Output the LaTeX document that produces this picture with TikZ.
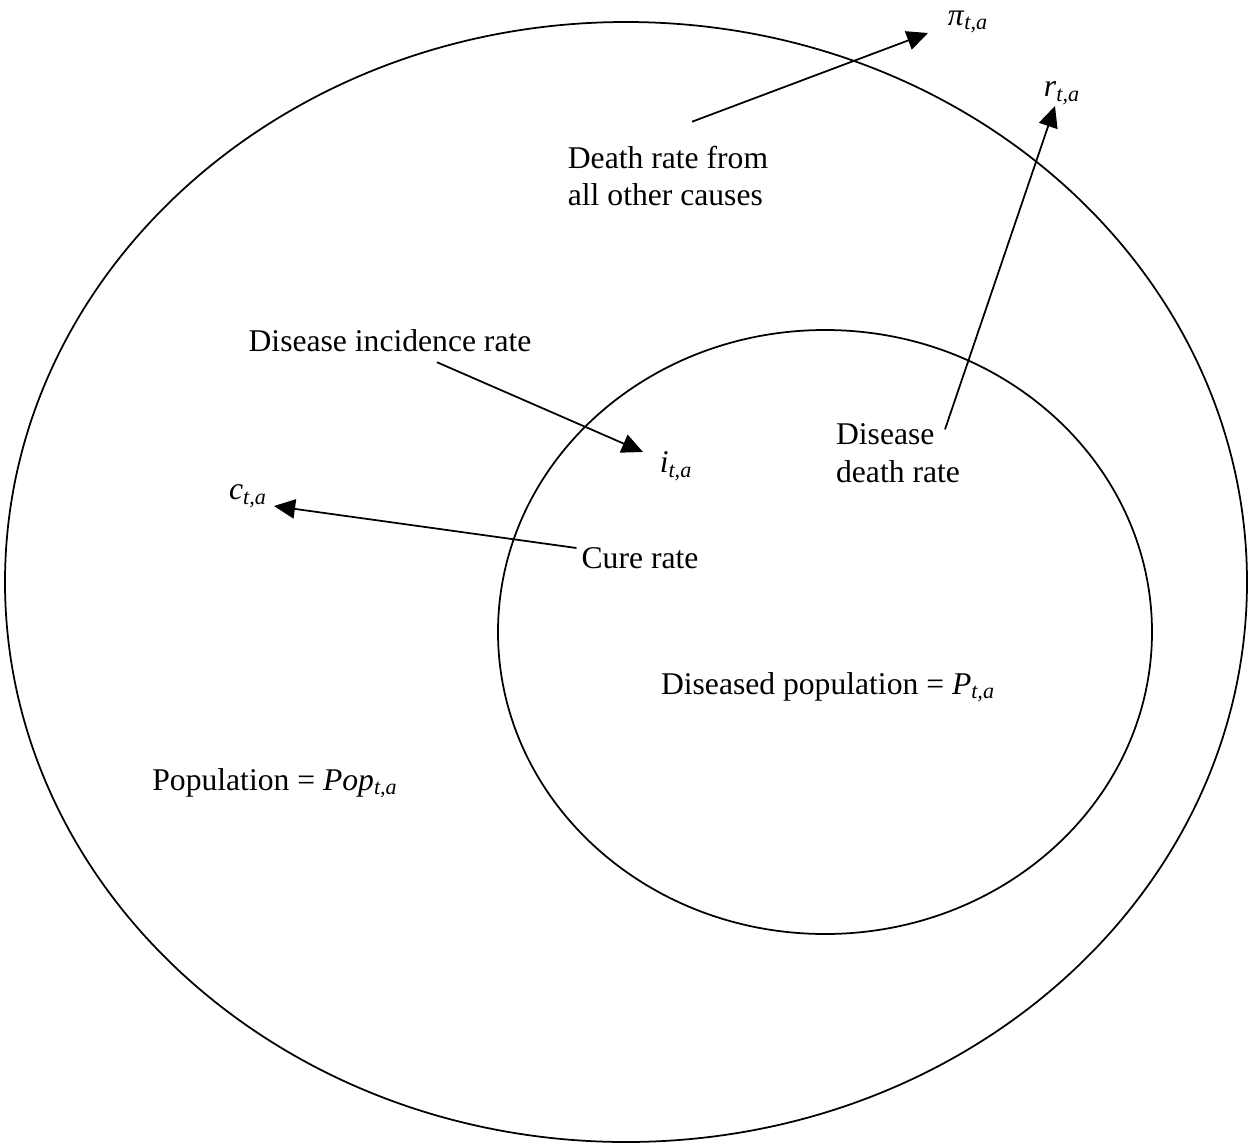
\documentclass[tikz,border=0pt]{standalone}
\usepackage{fontspec}
\setmainfont{Liberation Serif}
\usetikzlibrary{arrows.meta}
\newcommand{\ta}{\textsubscript{\textit{t,a}}}
\begin{document}
\begin{tikzpicture}[x=0.02cm, y=-0.02cm,
    lbl/.style = {inner sep=1pt, font=\fontsize{18}{21.5}\selectfont},
    ring/.style = {draw, line width=1pt},
    arr/.style = {line width=1pt, -{Triangle[length=12pt, width=11pt]}}]
  \useasboundingbox (0,0) rectangle (1249,1144);
  % populations
  \draw[ring] (626,582) ellipse [x radius=621, y radius=560];
  \draw[ring] (825,632) ellipse [x radius=327, y radius=302];
  % labels
  \node[lbl] (pop) at (275,783) {Population = \textit{Pop}\ta};
  \node[lbl] (dis) at (828,687) {Diseased population = \textit{P}\ta};
  \node[lbl, align=left] (death) at (668,176) {Death rate from\\all other causes};
  \node[lbl] (pi) at (968,22) {\textit{π}\ta};
  \node[lbl] (r) at (1062,93) {\textit{r}\ta};
  \node[lbl, align=left] (ddeath) at (898,453) {Disease\\death rate};
  \node[lbl] (incid) at (390,341) {Disease incidence rate};
  \node[lbl] (i) at (676,466) {\textit{i}\ta};
  \node[lbl] (cure) at (640,558) {Cure rate};
  \node[lbl] (c) at (248,496) {\textit{c}\ta};
  % flows
  \coordinate (pitip) at (928,33);
  \coordinate (rtip) at (1055,106);
  \coordinate (itip) at (643,452);
  \coordinate (ctip) at (274,506);
  \draw[arr] ([shift={(24,-22)}]death.north) -- (pitip);
  \draw[arr] ([shift={(47,8)}]ddeath.north) -- (rtip);
  \draw[arr] ([shift={(47,8)}]incid.south) -- (itip);
  \draw[arr] ([shift={(-3,-10)}]cure.west) -- (ctip);
\end{tikzpicture}
\end{document}
